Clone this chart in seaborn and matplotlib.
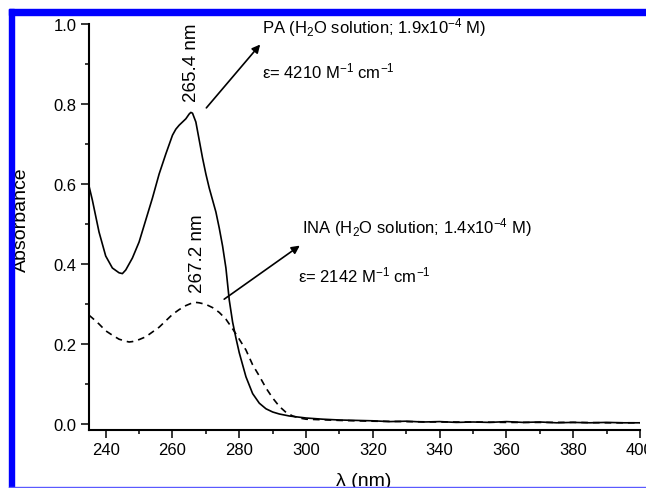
import numpy as np
import pandas as pd
import matplotlib
matplotlib.use('Agg')
import matplotlib.pyplot as plt
from matplotlib.patches import Rectangle
import seaborn as sns

# PA (solid) absorbance
pa_wl = [235, 236, 238, 240, 242, 244, 245, 246, 248, 250, 252, 254, 256, 258, 260,
         261, 262, 263, 264, 265, 265.5, 266, 267, 268, 269, 270, 271, 272, 273, 274,
         275, 276, 277, 278, 279, 280, 282, 284, 286, 288, 290, 292, 295,
         300, 305, 310, 315, 320, 325, 330, 335, 340, 345, 350, 355, 360, 365, 370,
         375, 380, 385, 390, 395, 400]
pa_abs = [0.595, 0.56, 0.48, 0.42, 0.39, 0.378, 0.376, 0.385, 0.415, 0.455, 0.51, 0.565, 0.625, 0.675, 0.722,
          0.737, 0.747, 0.755, 0.763, 0.775, 0.779, 0.777, 0.755, 0.71, 0.665, 0.625, 0.59, 0.56, 0.53, 0.49,
          0.445, 0.39, 0.31, 0.255, 0.215, 0.178, 0.118, 0.076, 0.052, 0.038, 0.030, 0.025, 0.020,
          0.015, 0.012, 0.010, 0.009, 0.008, 0.006, 0.007, 0.005, 0.006, 0.004, 0.005, 0.004, 0.006, 0.004, 0.005,
          0.003, 0.004, 0.003, 0.004, 0.003, 0.003]

# INA (dashed)
ina_wl = [235, 236, 238, 240, 242, 244, 246, 247, 248, 250, 252, 254, 256, 258, 260, 262, 264, 266,
          267, 268, 270, 272, 274, 276, 278, 280, 282, 284, 286, 288, 290, 292, 294, 296, 298,
          300, 310, 320, 330, 340, 350, 360, 370, 380, 390, 400]
ina_abs = [0.272, 0.265, 0.25, 0.233, 0.222, 0.212, 0.207, 0.205, 0.206, 0.211, 0.218, 0.23, 0.242, 0.258,
           0.274, 0.286, 0.296, 0.303, 0.304, 0.303, 0.299, 0.291, 0.279, 0.262, 0.238, 0.212, 0.185, 0.148,
           0.12, 0.09, 0.065, 0.044, 0.029, 0.02, 0.015, 0.012, 0.009, 0.007, 0.006, 0.005, 0.005, 0.004,
           0.004, 0.004, 0.003, 0.003]

sns.set_style('ticks')
plt.rcParams['font.family'] = ['Liberation Sans', 'DejaVu Sans']
plt.rcParams['mathtext.fontset'] = 'custom'
plt.rcParams['mathtext.rm'] = 'Liberation Sans'
plt.rcParams['mathtext.it'] = 'Liberation Sans:italic'
plt.rcParams['mathtext.default'] = 'regular'
plt.rcParams['text.color'] = 'black'
plt.rcParams['axes.labelcolor'] = 'black'

fig = plt.figure(figsize=(6.46, 4.89), dpi=100)
ax = fig.add_axes([89 / 646, 58 / 489, 551 / 646, 406 / 489])

sns.lineplot(x=pa_wl, y=pa_abs, ax=ax, color='black', linewidth=1.2)
sns.lineplot(x=ina_wl, y=ina_abs, ax=ax, color='black', linewidth=1.2,
             linestyle=(0, (4, 3)))

ax.set_xlim(235, 400)
ax.set_ylim(-0.015, 1.0)
ax.set_xticks(np.arange(240, 401, 20))
ax.set_xticks(np.arange(250, 400, 20), minor=True)
ax.set_yticks(np.arange(0, 1.01, 0.2))
ax.set_yticks(np.arange(0.1, 1.0, 0.2), minor=True)
ax.yaxis.set_major_formatter(matplotlib.ticker.FormatStrFormatter('%.1f'))
ax.tick_params(which='major', direction='out', length=6, width=1.1,
               labelsize=12, pad=3, color='black', labelcolor='black')
ax.tick_params(which='minor', direction='out', length=3, width=1.1, color='black')
sns.despine(ax=ax)
for s in ['left', 'bottom']:
    ax.spines[s].set_linewidth(1.5)
    ax.spines[s].set_color('black')

ax.set_xlabel('λ (nm)', fontsize=14)
ax.set_ylabel('Absorbance', fontsize=14)
ax.xaxis.set_label_coords(0.498, -0.104)
ax.yaxis.set_label_coords(-0.107, 0.52)

# peak labels
ax.text(265.6, 0.8075, '265.4 nm', rotation=90, ha='center', va='bottom', fontsize=13.5)
ax.text(267.5, 0.33, '267.2 nm', rotation=90, ha='center', va='bottom', fontsize=13.5)

# arrows
ax.annotate('', xy=(286.8, 0.954), xytext=(269.6, 0.785),
            arrowprops=dict(arrowstyle='-|>', color='black', lw=1.2, mutation_scale=12))
ax.annotate('', xy=(298.8, 0.45), xytext=(274.8, 0.308),
            arrowprops=dict(arrowstyle='-|>', color='black', lw=1.2, mutation_scale=12))

ax.text(286.9, 0.9925, 'PA (H$_2$O solution; 1.9x10$^{-4}$ M)', ha='left', va='center',
        fontsize=12, clip_on=False)
ax.text(286.9, 0.883, 'ε= 4210 M$^{-1}$ cm$^{-1}$', ha='left', va='center', fontsize=12)
ax.text(298.9, 0.4925, 'INA (H$_2$O solution; 1.4x10$^{-4}$ M)', ha='left', va='center', fontsize=12)
ax.text(297.7, 0.375, 'ε= 2142 M$^{-1}$ cm$^{-1}$', ha='left', va='center', fontsize=12)

# blue frame around the figure
fig.patches.append(Rectangle((9 / 646, 0), 5 / 646, 479 / 489, transform=fig.transFigure,
                             color='#0000ff', zorder=10))
fig.patches.append(Rectangle((9 / 646, 1 - 16 / 489), 1 - 9 / 646, 6 / 489,
                             transform=fig.transFigure, color='#0000ff', zorder=10))
fig.patches.append(Rectangle((9 / 646, 0), 1 - 9 / 646, 1.5 / 489,
                             transform=fig.transFigure, color='#5a5aff', zorder=10))

fig.savefig('out.png', dpi=100)
